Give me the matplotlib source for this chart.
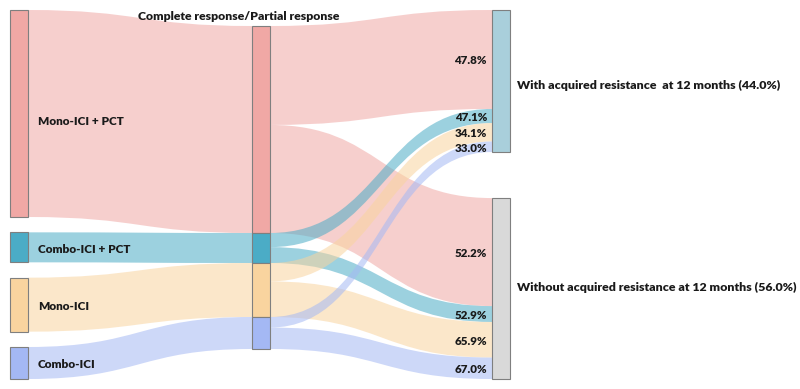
import matplotlib
matplotlib.use("Agg")
from matplotlib import pyplot as plt
from matplotlib.path import Path
from matplotlib.patches import PathPatch, Rectangle

# data
groups = ["Mono-ICI + PCT", "Combo-ICI + PCT", "Mono-ICI", "Combo-ICI"]
group_size = [207, 30, 54, 32]          # relative size of each group (CR/PR patients)
pct_with = [47.8, 47.1, 34.1, 33.0]     # % with acquired resistance at 12 months
pct_without = [52.2, 52.9, 65.9, 67.0]  # % without
outcomes = ["With acquired resistance  at 12 months (44.0%)",
            "Without acquired resistance at 12 months (56.0%)"]
middle_label = "Complete response/Partial response"

node_colors = ["#F0A8A5", "#4BACC6", "#F9D49F", "#A4B8F4"]
outcome_colors = ["#A9CFDB", "#D9D9D9"]

# layout (axes units = pixels)
W, H = 800, 389
nw = 18
xl, xm, xr = 10, 252, 492
top, bottom = 10, 379
mid_top = 26
txt = "#1a1a1a"
wt = 800

plt.rcParams['font.family'] = ['Lato', 'DejaVu Sans']
fig = plt.figure(figsize=(8, 3.89), dpi=100)
ax = fig.add_axes([0, 0, 1, 1])
ax.set_xlim(0, W)
ax.set_ylim(H, 0)
ax.axis("off")


def ribbon(x0, x1, a0, b0, a1, b1, color):
    c = (x0 + x1) / 2
    verts = [(x0, a0), (c, a0), (c, a1), (x1, a1),
             (x1, b1), (c, b1), (c, b0), (x0, b0), (x0, a0)]
    codes = [Path.MOVETO, Path.CURVE4, Path.CURVE4, Path.CURVE4,
             Path.LINETO, Path.CURVE4, Path.CURVE4, Path.CURVE4, Path.CLOSEPOLY]
    ax.add_patch(PathPatch(Path(verts, codes), facecolor=color, edgecolor="none",
                           alpha=0.55, zorder=1))


def node(x, y0, y1, color):
    ax.add_patch(Rectangle((x, y0), nw, y1 - y0, facecolor=color,
                           edgecolor="#7f7f7f", linewidth=0.8, zorder=3))


total = sum(group_size)
gap_left = (bottom - top - total) / (len(groups) - 1)
gap_right = (bottom - top - total)

with_sizes = [s * p / 100 for s, p in zip(group_size, pct_with)]
without_sizes = [s * p / 100 for s, p in zip(group_size, pct_without)]

# left and middle positions
left_y = []
mid_y = []
yl = top
ym = mid_top
for s in group_size:
    left_y.append((yl, yl + s))
    mid_y.append((ym, ym + s))
    yl += s + gap_left
    ym += s

# right positions
with_top = top
with_bot = top + sum(with_sizes)
wo_top = with_bot + gap_right
wo_bot = wo_top + sum(without_sizes)

# left -> middle flows
for i in range(len(groups)):
    ribbon(xl + nw, xm, left_y[i][0], left_y[i][1], mid_y[i][0], mid_y[i][1], node_colors[i])

# middle -> right flows
yw = with_top
yo = wo_top
for i in range(len(groups)):
    m0 = mid_y[i][0]
    ribbon(xm + nw, xr, m0, m0 + with_sizes[i], yw, yw + with_sizes[i], node_colors[i])
    ax.text(xr - 5, yw + with_sizes[i] / 2 + 1.5, f"{pct_with[i]:.1f}%", ha="right",
            va="center", fontsize=8.3, fontweight=wt, color=txt, zorder=4)
    ribbon(xm + nw, xr, m0 + with_sizes[i], mid_y[i][1], yo, yo + without_sizes[i],
           node_colors[i])
    ax.text(xr - 5, yo + without_sizes[i] / 2 + 1.5, f"{pct_without[i]:.1f}%", ha="right",
            va="center", fontsize=8.3, fontweight=wt, color=txt, zorder=4)
    yw += with_sizes[i]
    yo += without_sizes[i]

# nodes
for i in range(len(groups)):
    node(xl, left_y[i][0], left_y[i][1], node_colors[i])
    node(xm, mid_y[i][0], mid_y[i][1], node_colors[i])
    yc = (left_y[i][0] + left_y[i][1]) / 2 + 2
    if i == 0:
        yc += 6
    ax.text(xl + nw + 10, yc, groups[i], ha="left",
            va="center", fontsize=8.5, fontweight=wt, color=txt, zorder=4)

node(xr, with_top, with_bot, outcome_colors[0])
node(xr, wo_top, wo_bot, outcome_colors[1])
ax.text(xr + nw + 7, (with_top + with_bot) / 2 + 4, outcomes[0], ha="left", va="center",
        fontsize=8.9, fontweight=wt, color=txt)
ax.text(xr + nw + 7, (wo_top + wo_bot) / 2 - 1, outcomes[1], ha="left", va="center",
        fontsize=8.9, fontweight=wt, color=txt)

ax.text(xm - 13, mid_top - 10, middle_label, ha="center", va="center",
        fontsize=8.8, fontweight=wt, color=txt, zorder=4)

fig.savefig("out.png", dpi=100)
